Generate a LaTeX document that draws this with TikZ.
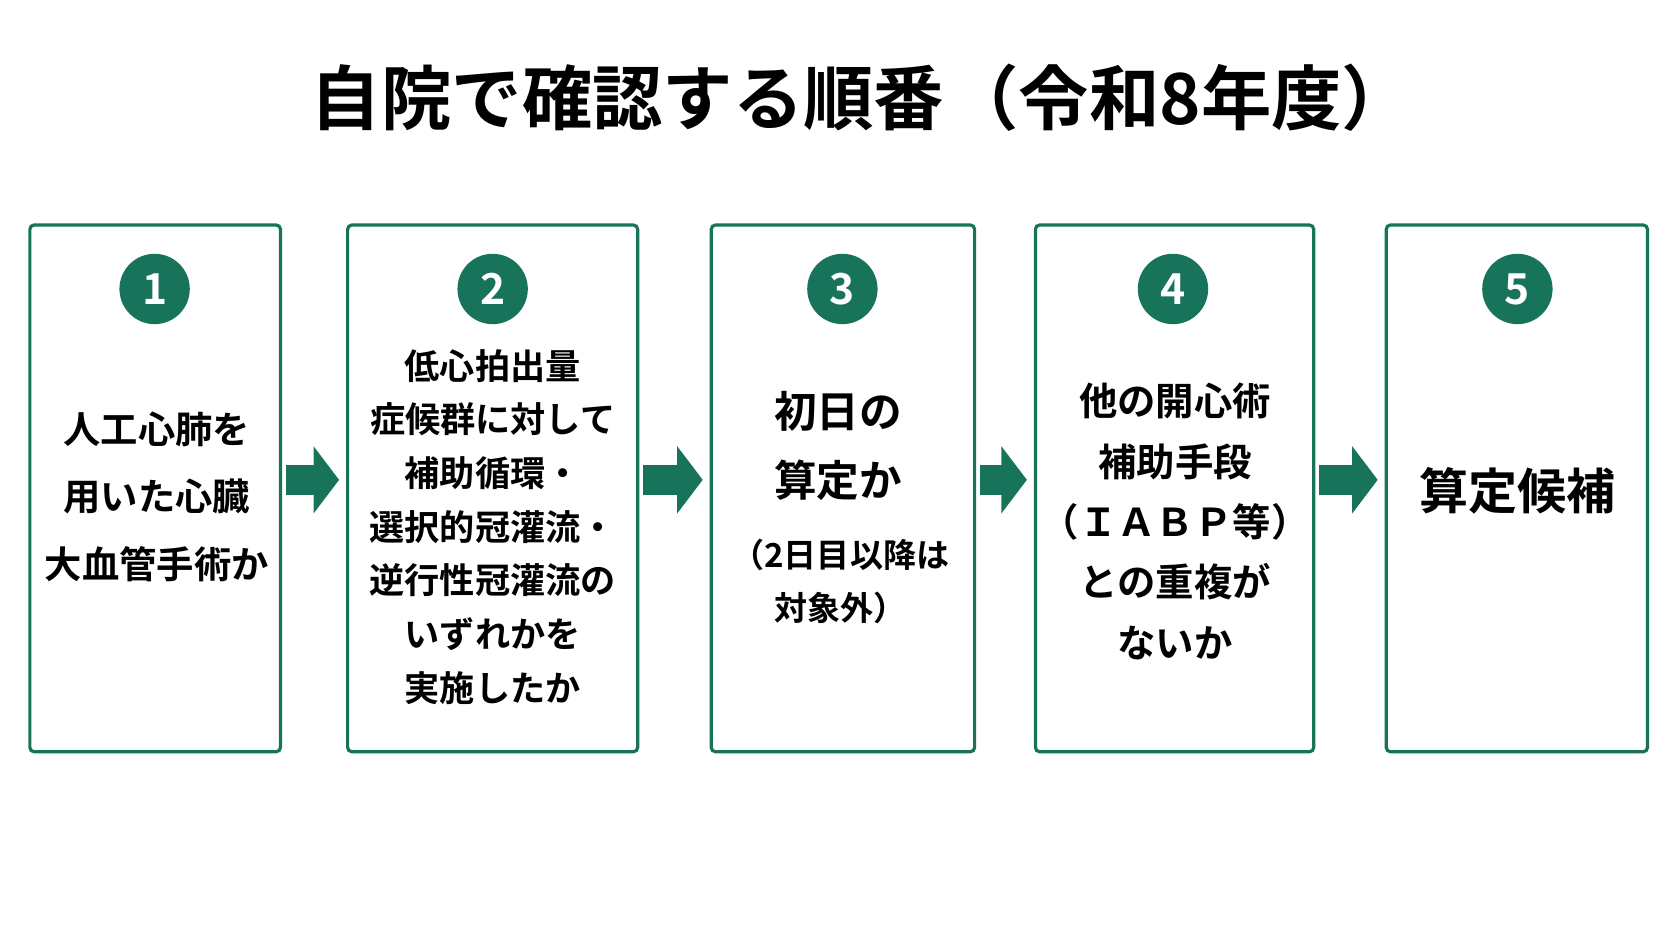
\documentclass[tikz,border=0pt]{standalone}
\usepackage{fontspec}
\newfontfamily\jp{Noto Sans CJK JP Bold}
\usetikzlibrary{arrows.meta}
\definecolor{stepgreen}{HTML}{17735A}
\tikzset{
  stepbox/.style={draw=stepgreen,line width=3pt,rounded corners=4pt},
  num/.style={circle,fill=stepgreen,text=white,minimum size=66pt,inner sep=0pt,font=\jp\fontsize{40}{40}\selectfont},
  body/.style={align=center},
  flow/.style={stepgreen,line width=28pt,-{Triangle[width=62pt,length=24pt]},shorten <=5pt,shorten >=8pt}
}
\begin{document}
\begin{tikzpicture}[x=1pt,y=-1pt]
\useasboundingbox (0,0) rectangle (1568,882);

\node[font=\jp\fontsize{66}{66}\selectfont] (title) at (808,92) {自院で確認する順番\hspace{4pt}（令和8年度）};

% boxes
\draw[stepbox] (28,211) rectangle (263,705);
\draw[stepbox] (326,211) rectangle (598,705);
\draw[stepbox] (667,211) rectangle (914,705);
\draw[stepbox] (971,211) rectangle (1232,705);
\draw[stepbox] (1300,211) rectangle (1545,705);
\coordinate (b1) at (263,450);
\coordinate (b2l) at (326,450);
\coordinate (b2) at (598,450);
\coordinate (b3l) at (667,450);
\coordinate (b3) at (914,450);
\coordinate (b4l) at (971,450);
\coordinate (b4) at (1232,450);
\coordinate (b5l) at (1300,450);

\node[num] (n1) at (145,271) {1};
\node[num] (n2) at (462,271) {2};
\node[num] (n3) at (790,271) {3};
\node[num] (n4) at (1100,271) {4};
\node[num] (n5) at (1423,271) {5};

\node[body,font=\jp\fontsize{35}{63}\selectfont] (t1) at (147,466) {人工心肺を\\用いた心臓\\大血管手術か};
\node[body,font=\jp\fontsize{33}{50.3}\selectfont] (t2) at (462,494) {低心拍出量\\症候群に対して\\補助循環・\\選択的冠灌流・\\逆行性冠灌流の\\いずれかを\\実施したか};
\node[body,font=\jp\fontsize{40}{65}\selectfont] (t3a) at (786,418) {初日の\\算定か};
\node[body,font=\jp\fontsize{31}{50}\selectfont] (t3b) at (788,545) {（2日目以降は\\対象外）};
\node[body,font=\jp\fontsize{36}{56.7}\selectfont] (t4) at (1102,489) {他の開心術\\補助手段\\（ＩＡＢＰ等）\\との重複が\\ないか};
\node[font=\jp\fontsize{46}{46}\selectfont] (t5) at (1423,460) {算定候補};

\draw[flow] (b1) -- (b2l);
\draw[flow] (b2) -- (b3l);
\draw[flow] (b3) -- (b4l);
\draw[flow] (b4) -- (b5l);
\end{tikzpicture}
\end{document}
